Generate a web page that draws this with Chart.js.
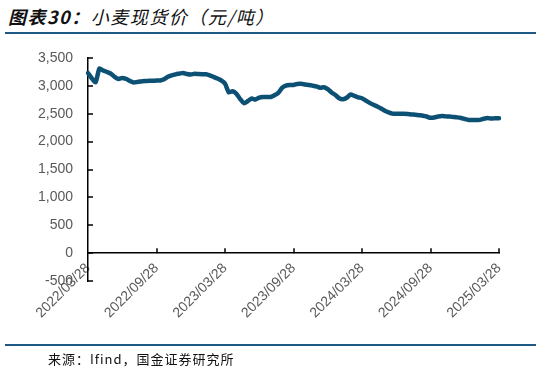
<!DOCTYPE html>
<html>
<head>
<meta charset="utf-8">
<script src="https://cdn.jsdelivr.net/npm/chart.js@4"></script>
<style>
  body { margin: 0; background: #fff; }
  #page { position: relative; width: 541px; height: 373px; overflow: hidden; }
  .title {
    position: absolute; left: 8px; top: 3px; white-space: nowrap;
    font-family: "Noto Sans CJK SC"; font-style: italic; font-size: 18px;
    letter-spacing: 1.5px; color: #111;
  }
  .title b { font-weight: 700; }
  .rule { position: absolute; left: 5px; width: 531px; height: 2px; background: #1c5a85; }
  .source {
    position: absolute; left: 48px; top: 349px; white-space: nowrap;
    font-family: "Noto Sans CJK SC"; font-size: 13px; letter-spacing: 1px; color: #111;
  }
  #wrap { position: absolute; left: 0; top: 0; width: 541px; height: 373px; }
</style>
</head>
<body>
<div id="page">
  <div class="title"><b>图表30：</b>小麦现货价（元/吨）</div>
  <div class="rule" style="top:32px"></div>
  <div id="wrap"><canvas id="chart"></canvas></div>
  <div class="rule" style="top:344px"></div>
  <div class="source">来源：Ifind，国金证券研究所</div>
</div>
<script>
// three points a month: the 8th, 18th and 28th, from 2022/03/28 to 2025/03/28
const dates = []
for (let y = 2022, m = 3; y < 2025 || (y === 2025 && m <= 3); m++) {
    if (m > 12) { m = 1; y++ }
    if (y === 2025 && m > 3) break
    const mm = String(m).padStart(2, '0')
    const days = (y === 2022 && m === 3) ? ['28'] : ['08', '18', '28']
    days.forEach(d => dates.push(`${y}/${mm}/${d}`))
}

// wheat spot price, yuan per tonne
const wheatPrice = [
    3230, 3136, 3067, 3310, 3276, 3249, 3221, 3161, 3123, 3141,
    3124, 3090, 3060, 3071, 3079, 3087, 3090, 3093, 3095, 3098,
    3119, 3163, 3189, 3207, 3220, 3233, 3212, 3203, 3217, 3211,
    3208, 3208, 3190, 3162, 3132, 3099, 3041, 2885, 2905, 2860,
    2762, 2690, 2728, 2773, 2756, 2790, 2801, 2801, 2801, 2830,
    2875, 2965, 3003, 3016, 3016, 3034, 3037, 3026, 3016, 3005,
    2992, 2968, 2976, 2940, 2882, 2837, 2777, 2760, 2787, 2847,
    2820, 2795, 2778, 2736, 2695, 2660, 2631, 2595, 2554, 2525,
    2502, 2502, 2502, 2501, 2495, 2488, 2481, 2473, 2465, 2450,
    2427, 2434, 2450, 2458, 2453, 2449, 2442, 2435, 2425, 2406,
    2389, 2389, 2389, 2390, 2410, 2422, 2413, 2420, 2420,
]

const yMin = -500
const yMax = 3500
const yStep = 500
const labelEvery = 18 // six months

const tickMarks = {
    id: 'tickMarks',
    afterDraw(chart) {
        const { ctx, scales: { x, y } } = chart
        const zero = y.getPixelForValue(0)
        ctx.save()
        ctx.strokeStyle = '#000'
        ctx.lineWidth = 1.5
        ctx.beginPath()
        y.ticks.forEach(t => {
            const py = Math.round(y.getPixelForValue(t.value))
            ctx.moveTo(y.right, py)
            ctx.lineTo(y.right + 5, py)
        })
        x.ticks.forEach(t => {
            const px = Math.round(x.getPixelForValue(t.value))
            if (t.value === 0) return
            ctx.moveTo(px, zero)
            ctx.lineTo(px, zero - 5)
        })
        ctx.stroke()
        ctx.restore()
    },
}

const tickFont = { family: 'Liberation Sans', size: 14 }

new Chart(document.getElementById('chart'), {
    type: 'line',
    data: {
        labels: dates,
        datasets: [{
            data: wheatPrice,
            borderColor: '#0c5074',
            borderWidth: 4.5,
            pointRadius: 0,
            tension: 0.2,
            borderJoinStyle: 'round',
            borderCapStyle: 'round',
        }],
    },
    options: {
        responsive: true,
        maintainAspectRatio: false,
        animation: false,
        events: [],
        layout: { padding: { left: 0, right: 42, top: 58, bottom: 92 } },
        plugins: { legend: { display: false }, tooltip: { enabled: false } },
        scales: {
            x: {
                type: 'category',
                position: { y: 0 },
                offset: false,
                afterBuildTicks: scale => {
                    scale.ticks = scale.ticks.filter(t => t.value % labelEvery === 0)
                },
                grid: { display: true, drawOnChartArea: false, drawTicks: false },
                border: { display: true, color: '#000', width: 1.5 },
                ticks: {
                    autoSkip: false,
                    minRotation: 45,
                    maxRotation: 45,
                    padding: 7,
                    color: '#595959',
                    font: tickFont,
                },
            },
            y: {
                min: yMin,
                max: yMax,
                afterFit: scale => { scale.width = 88 },
                grid: { display: true, drawOnChartArea: false, drawTicks: false },
                border: { display: true, color: '#000', width: 1.5 },
                ticks: {
                    stepSize: yStep,
                    padding: 15,
                    color: '#595959',
                    font: tickFont,
                    callback: v => v.toLocaleString('en-US'),
                },
            },
        },
    },
    plugins: [tickMarks],
})
</script>
</body>
</html>
